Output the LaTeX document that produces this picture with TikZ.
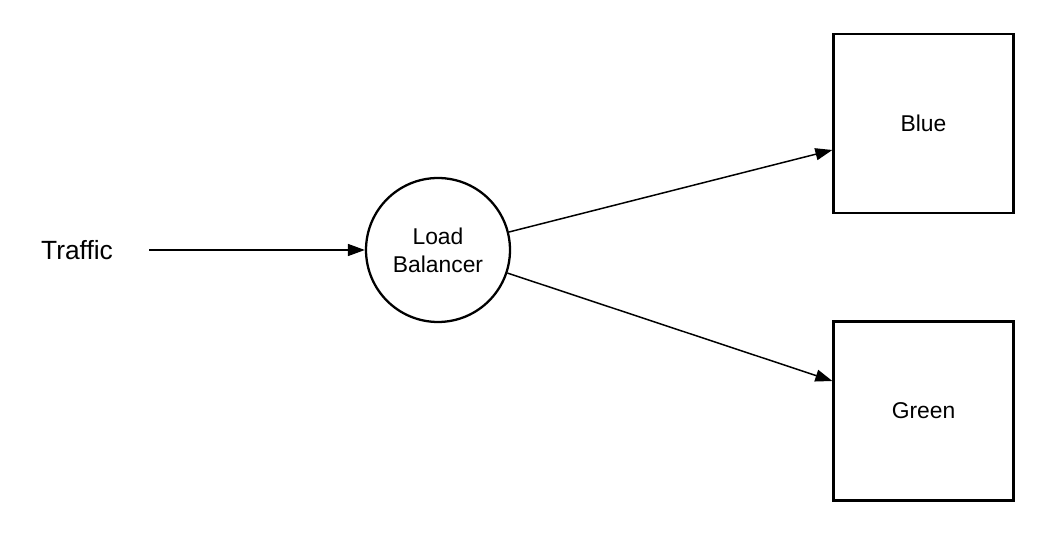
\documentclass[tikz,border=0pt]{standalone}
\usepackage{fontspec}
\setmainfont{Liberation Sans}
\usetikzlibrary{arrows.meta}

\begin{document}
\begin{tikzpicture}[x=0.02cm, y=-0.02cm,
        flow/.style={-{Triangle[length=0.34cm, width=0.24cm]}, line width=0.85pt},
        server/.style={draw, line width=1.3pt, minimum width=3.6cm, minimum height=3.58cm, font=\fontsize{13}{15}\selectfont}]
        \useasboundingbox (0,0) rectangle (1048,536);
        \node (Traffic) at (77,250) {\fontsize{15}{18}\selectfont Traffic};
        \coordinate (TrafficEnd) at (149,250);
        \node[draw, circle, line width=1.3pt, minimum size=2.88cm, inner sep=0pt, align=center, font=\fontsize{13}{16}\selectfont] (LB) at (438,250) {Load\\Balancer};
        \foreach \name/\y/\txt in {Blue/123.5/Blue, Green/411/Green}{
        \node[server] (\name) at (923.5,\y) {\txt};}
        \draw[flow] (TrafficEnd) -- (LB);
        \draw[flow] (LB) -- ([yshift=-0.53cm]Blue.west);
        \draw[flow] (LB) -- ([yshift=0.6cm]Green.west);
    \end{tikzpicture}
\end{document}
